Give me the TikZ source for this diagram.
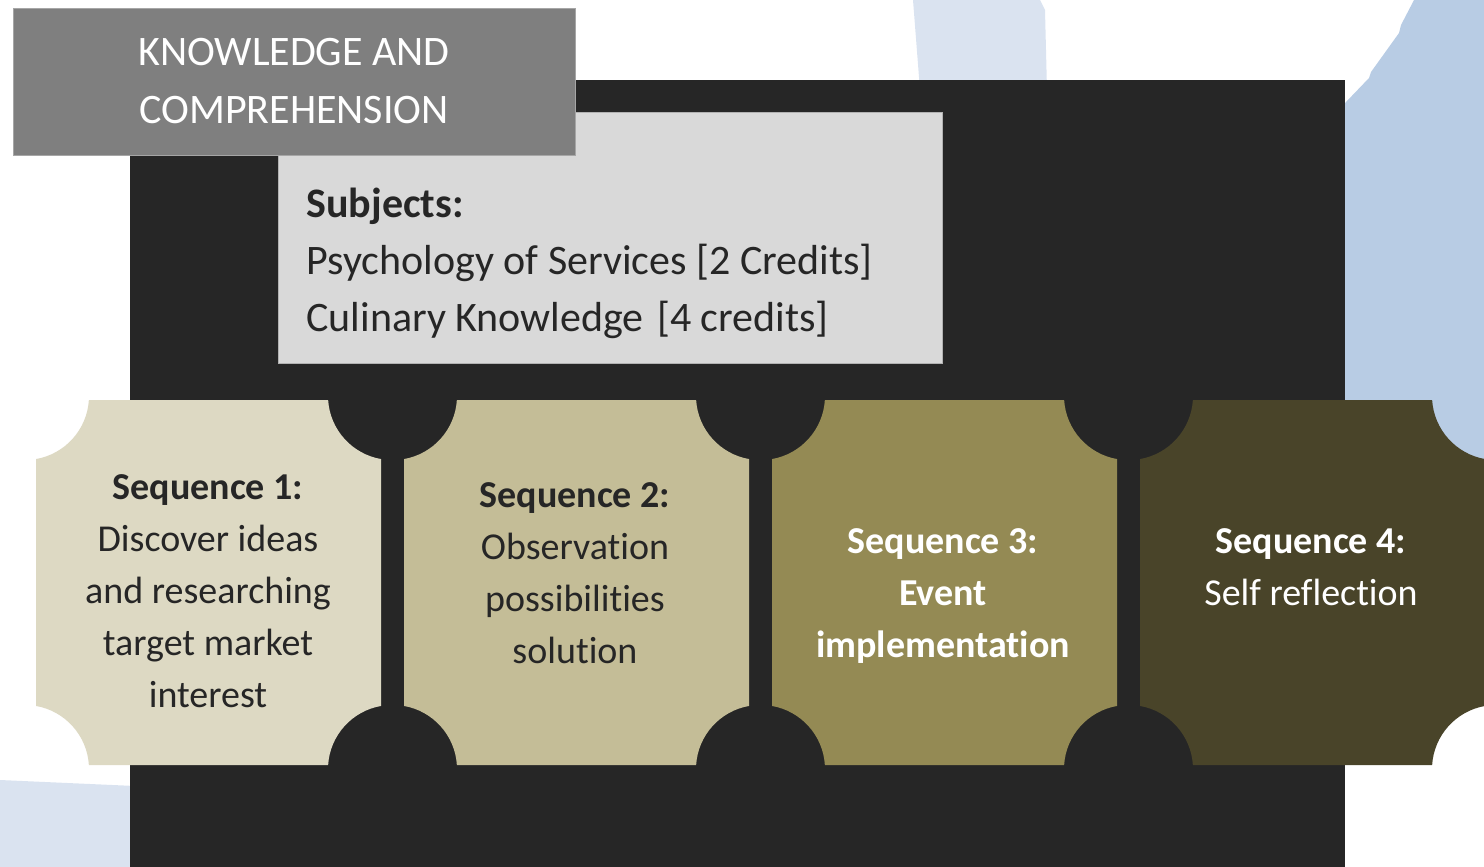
\documentclass[tikz,border=0pt]{standalone}
\usepackage{fontspec}
\setmainfont{Carlito}[Ligatures={NoCommon,NoRare}]
\definecolor{paleblue}{HTML}{DAE3F0}
\definecolor{midblue}{HTML}{B8CCE4}
\definecolor{darkbg}{HTML}{262626}
\definecolor{headgray}{HTML}{7F7F7F}
\definecolor{subjgray}{HTML}{D9D9D9}
\definecolor{seqA}{HTML}{DDD9C3}
\definecolor{seqB}{HTML}{C4BD97}
\definecolor{seqC}{HTML}{948A54}
\definecolor{seqD}{HTML}{494429}
\tikzset{
  headtext/.style={text=white,align=center,font=\fontsize{21}{29}\selectfont},
  subjtext/.style={text=darkbg,align=left,anchor=west,inner sep=0pt,font=\fontsize{21}{28.5}\selectfont},
  seqtext/.style={align=center,font=\fontsize{19}{26}\selectfont},
}
\begin{document}
\begin{tikzpicture}[x=0.5pt,y=-0.5pt]
  \useasboundingbox (0,0) rectangle (1484,867);

  % background pieces
  \fill[paleblue] (913,0) -- (920,90) -- (1047,90) -- (1045,10) -- (1040,0) -- cycle;
  \fill[midblue] (1414,0) -- (1401,25) -- (1399,33) -- (1371,72) -- (1369,78)
    -- (1300,150) -- (1300,600) -- (1484,600) -- (1484,0) -- cycle;
  \fill[paleblue] (0,780) -- (135,786) -- (135,867) -- (0,867) -- cycle;
  \fill[darkbg] (130,80) rectangle (1345,867);

  % subjects and header
  \node[fill=subjgray,draw=gray!60,line width=0.5pt,minimum width=332pt,minimum height=125.5pt]
    (subjbox) at (610,237.5) {};
  \node[subjtext] (subj) at (306,263)
    {\textbf{Subjects:}\\Psychology of Services [2 Credits]\\Culinary Knowledge \hspace{2pt}[4 credits]};
  \node[fill=headgray,draw=gray!70,line width=0.5pt,minimum width=281pt,minimum height=73.5pt,
    headtext] (head) at (294,81.5) {KNOWLEDGE AND\\COMPREHENSION};

  % sequence tiles
  \foreach \i/\col in {0/seqA,1/seqB,2/seqC,3/seqD}{
    \pgfmathsetmacro{\l}{36+368*\i}
    \pgfmathsetmacro{\r}{\l+345}
    \fill[\col] (\l,459.05) arc[start angle=80.1,end angle=3.58,radius=64]
      -- (\r-52.87,400) arc[start angle=176.42,end angle=99.9,radius=64]
      -- (\r,705.95) arc[start angle=260.1,end angle=183.58,radius=64]
      -- (\l+52.87,765) arc[start angle=356.42,end angle=279.9,radius=64]
      -- cycle;
  }

  \node[seqtext,text=darkbg] (seq1) at (208,591)
    {\textbf{Sequence 1:}\\Discover ideas\\and researching\\target market\\interest};
  \node[seqtext,text=darkbg] (seq2) at (575,573)
    {\textbf{Sequence 2:}\\Observation\\possibilities\\solution};
  \node[seqtext,text=white,font=\bfseries\fontsize{19}{26}\selectfont] (seq3) at (943,596)
    {Sequence 3:\\Event\\implementation};
  \node[seqtext,text=white] (seq4) at (1311,567)
    {\textbf{Sequence 4:}\\Self reflection};
\end{tikzpicture}
\end{document}
